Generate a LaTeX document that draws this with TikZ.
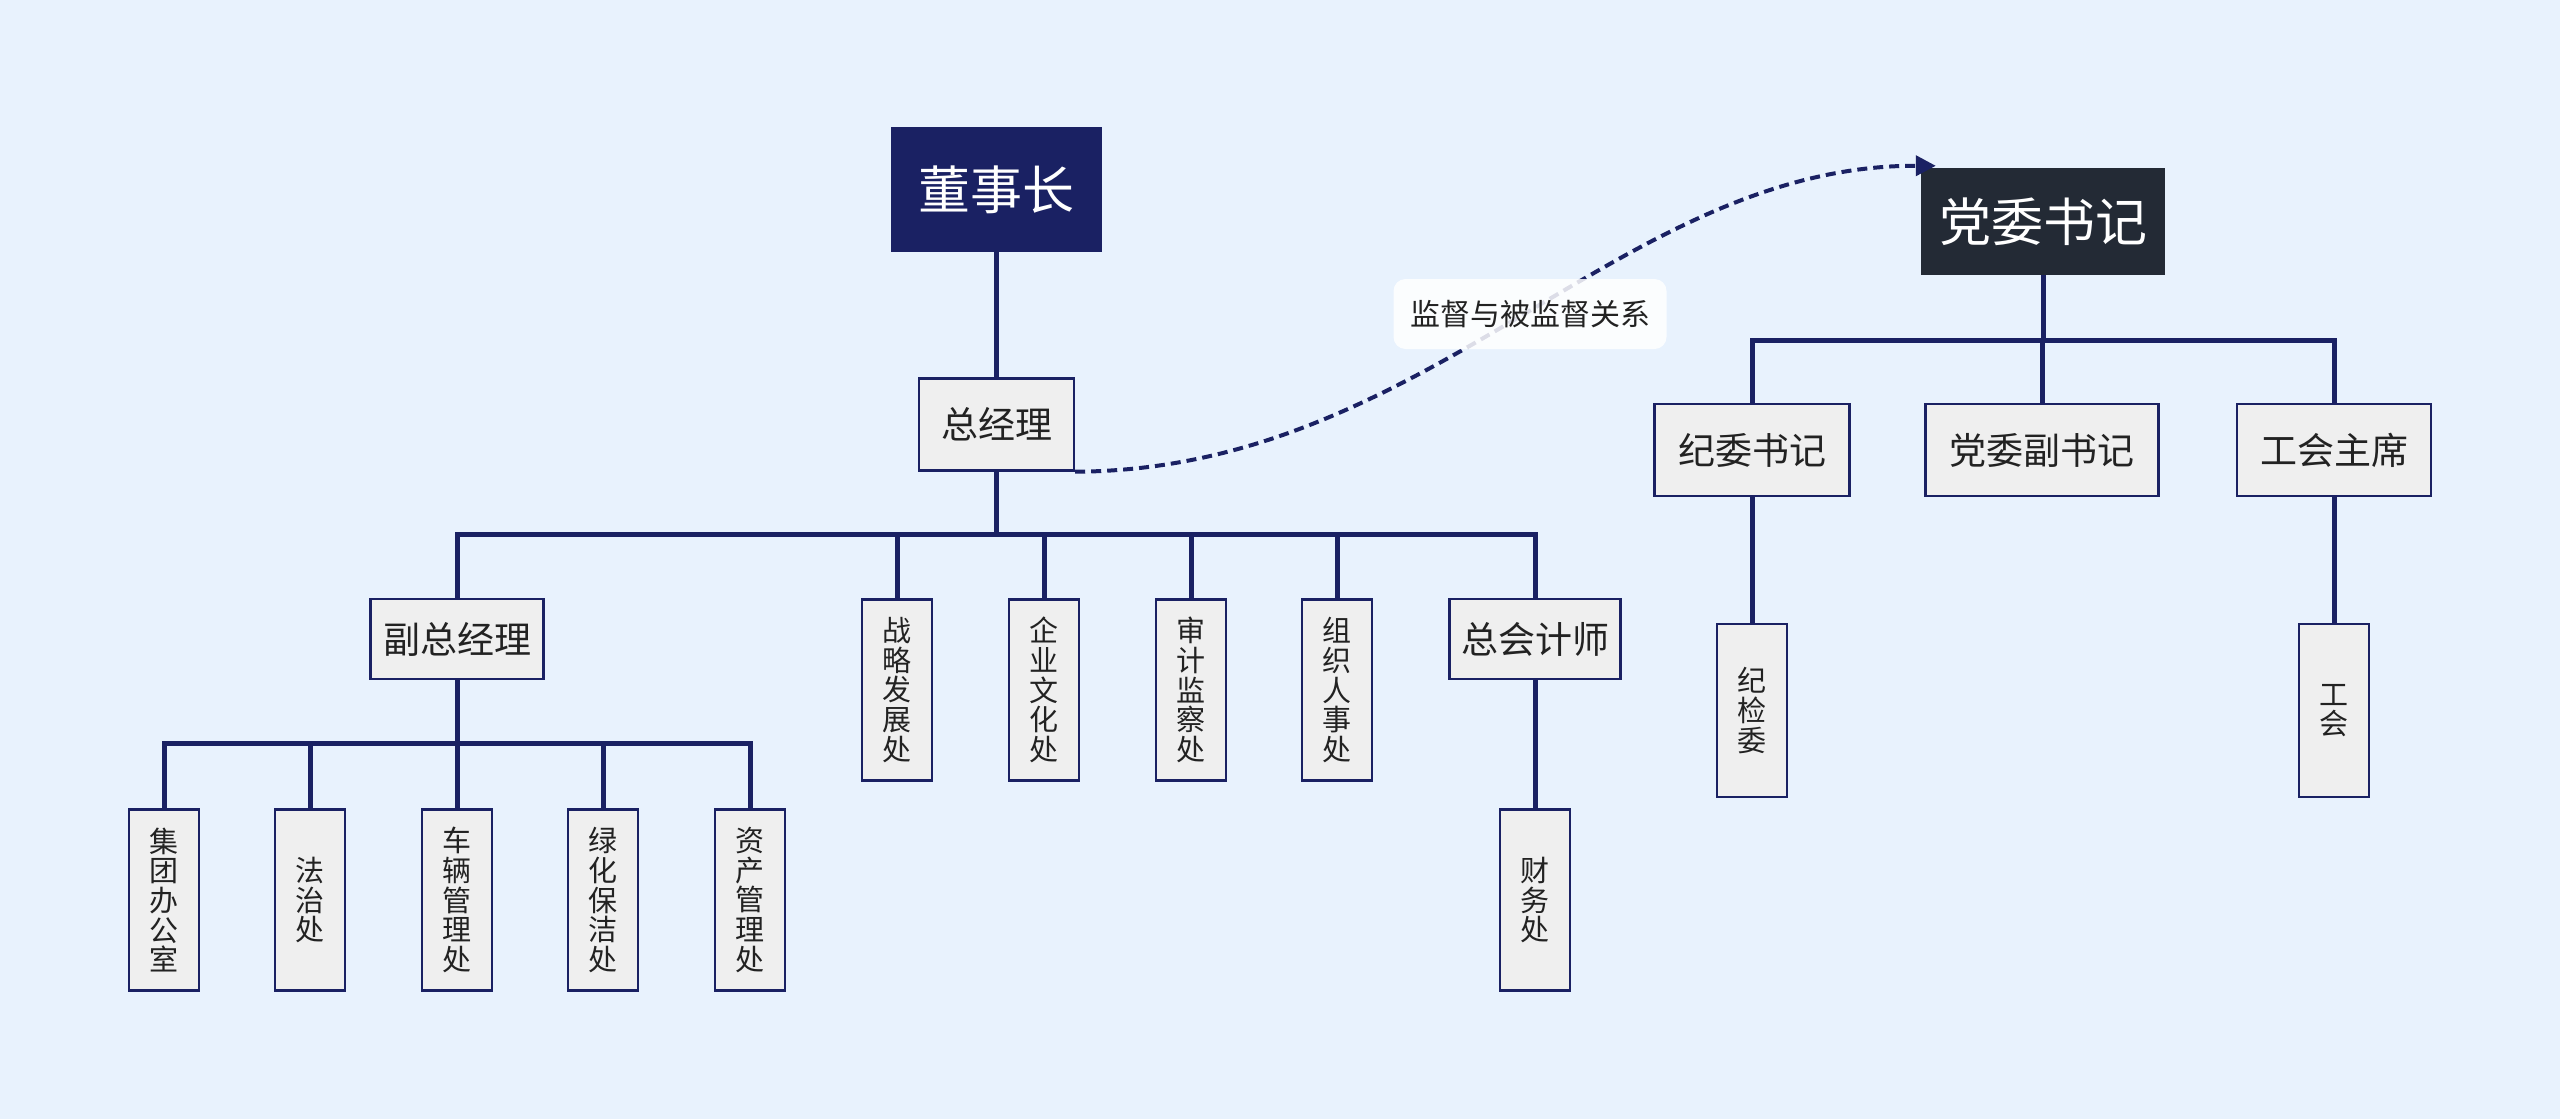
\documentclass[tikz,border=0pt]{standalone}
\usepackage{fontspec}
\newfontfamily\cjk{Noto Sans CJK SC}
\usetikzlibrary{arrows.meta,calc}
\definecolor{bg}{HTML}{E8F2FD}
\definecolor{navy}{HTML}{1A2163}
\definecolor{boxfill}{HTML}{EFEFEF}
\definecolor{darkbox}{HTML}{232A35}
\definecolor{txt}{HTML}{222222}
\begin{document}
\begin{tikzpicture}[x=0.5pt,y=-0.5pt,
  box/.style={draw=navy,line width=1.2pt,fill=boxfill,text=txt,inner sep=0pt,align=center},
  midbox/.style={box,minimum height=46pt,font=\cjk\fontsize{18.5pt}{22pt}\selectfont},
  lowbox/.style={box,minimum height=40pt,font=\cjk\fontsize{18.5pt}{22pt}\selectfont},
  leaf/.style={box,minimum width=35pt,minimum height=90.5pt,font=\cjk\fontsize{14.5pt}{14.8pt}\selectfont},
  leafs/.style={box,minimum width=35pt,minimum height=86.5pt,font=\cjk\fontsize{14.5pt}{14.8pt}\selectfont},
  link/.style={draw=navy,line width=2.5pt}]
\useasboundingbox (0,0) rectangle (2560,1119);
\fill[bg] (0,0) rectangle (2560,1119);

% top nodes
\node[box,fill=navy,text=white,minimum width=104.5pt,minimum height=61.5pt,font=\cjk\fontsize{26pt}{30pt}\selectfont] (dsz) at (996.5,189.5) {董事长};
\node[box,fill=darkbox,draw=darkbox,text=white,minimum width=121pt,minimum height=52.5pt,font=\cjk\fontsize{26pt}{30pt}\selectfont] (dw) at (2043,221.5) {党委书记};

% second level
\node[midbox,minimum width=77.5pt] (zjl) at (996.5,424.5) {总经理};
\node[midbox,minimum width=97.5pt] (jw) at (1752,450) {纪委书记};
\node[midbox,minimum width=116.5pt] (dwf) at (2042,450) {党委副书记};
\node[midbox,minimum width=97pt] (gh) at (2334,450) {工会主席};

% third level
\node[lowbox,minimum width=86.5pt] (fzjl) at (457,639) {副总经理};
\node[leaf] (zl) at (897,690) {战\\略\\发\\展\\处};
\node[leaf] (qy) at (1044,690) {企\\业\\文\\化\\处};
\node[leaf] (sj) at (1191,690) {审\\计\\监\\察\\处};
\node[leaf] (zz) at (1337,690) {组\\织\\人\\事\\处};
\node[lowbox,minimum width=85.5pt] (zkj) at (1535,639) {总会计师};

% leaves
\node[leaf] (jt) at (164,900) {集\\团\\办\\公\\室};
\node[leaf] (fz) at (310,900) {法\\治\\处};
\node[leaf] (cl) at (457,900) {车\\辆\\管\\理\\处};
\node[leaf] (lh) at (603,900) {绿\\化\\保\\洁\\处};
\node[leaf] (zc) at (750,900) {资\\产\\管\\理\\处};
\node[leaf] (cw) at (1535,900) {财\\务\\处};
\node[leafs] (jjw) at (1752,710.5) {纪\\检\\委};
\node[leafs] (ghu) at (2334,710.5) {工\\会};

% connectors
\coordinate (barA) at (0,534);
\coordinate (barB) at (0,743);
\coordinate (barC) at (0,340);
\draw[link] (dsz.south) -- (zjl.north);
\foreach \n in {fzjl,zl,qy,sj,zz,zkj}
  \draw[link] (zjl.south) -- (zjl.south |- barA) -| (\n.north);
\foreach \n in {jt,fz,cl,lh,zc}
  \draw[link] (fzjl.south) -- (fzjl.south |- barB) -| (\n.north);
\draw[link] (zkj.south) -- (cw.north);
\foreach \n in {jw,dwf,gh}
  \draw[link] (dw.south) -- (dw.south |- barC) -| (\n.north);
\draw[link] (jw.south) -- (jjw.north);
\draw[link] (gh.south) -- (ghu.north);

% relation curve
\draw[navy,line width=2pt,dash pattern=on 5pt off 3pt,-{Triangle[length=10pt,width=10pt]}]
  (zjl.south east) .. controls (1430,470) and (1620,165) .. ([xshift=7.5pt,yshift=1pt]dw.north west);
\node[fill=white,fill opacity=0.85,text opacity=1,rounded corners=6pt,minimum width=136.5pt,minimum height=35pt,inner sep=0pt,text=txt,font=\cjk\fontsize{15pt}{15pt}\selectfont] (lbl) at (1530,314) {监督与被监督关系};
\end{tikzpicture}
\end{document}
